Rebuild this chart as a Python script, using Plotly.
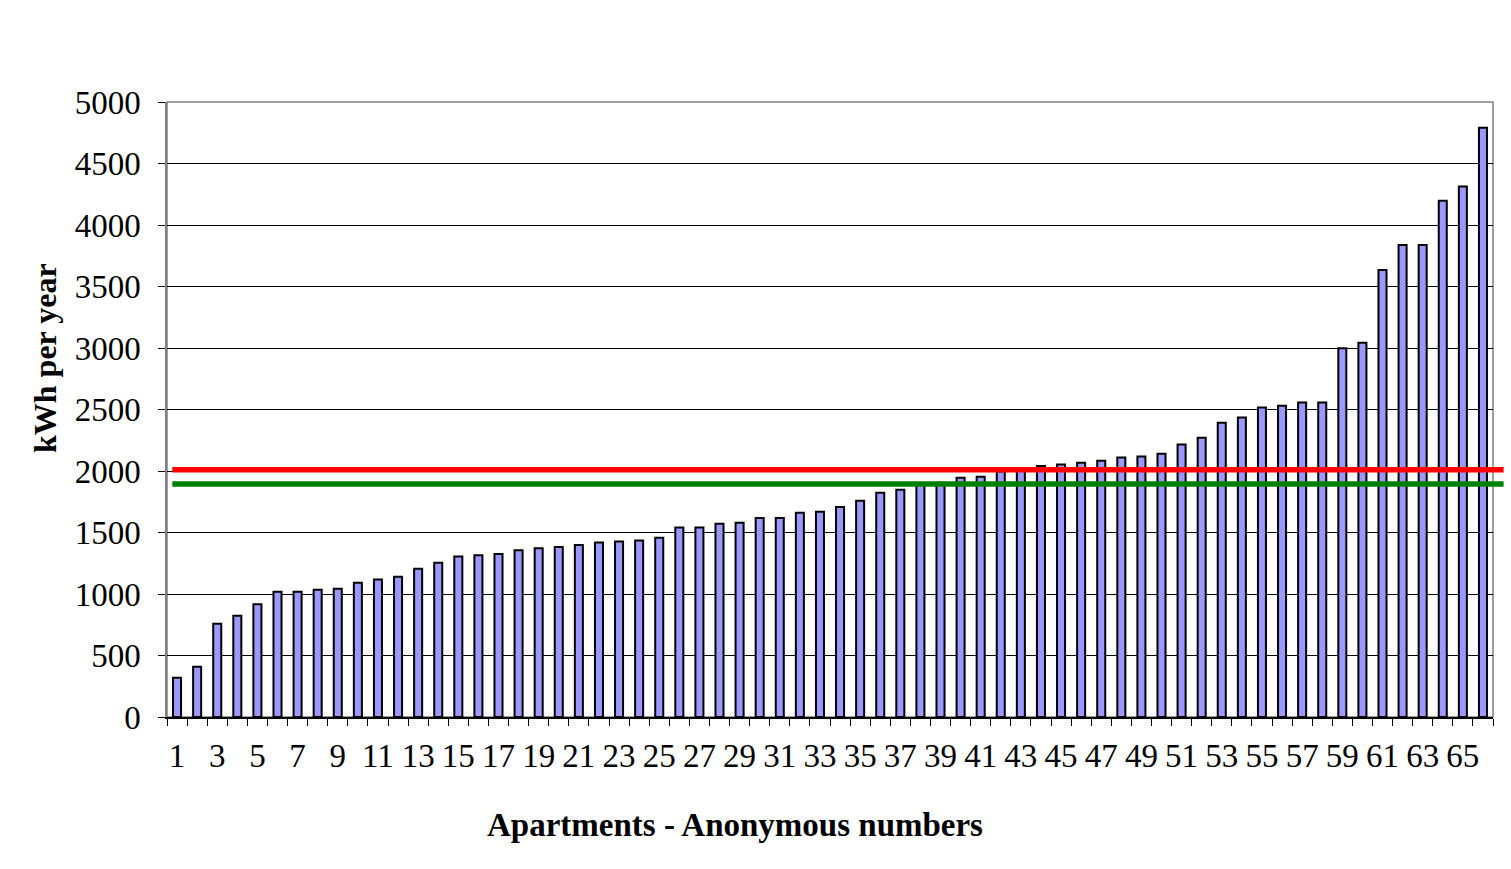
import plotly.graph_objects as go

apartments = list(range(1, 67))
kwh_per_year = [320, 409, 759, 824, 916, 1019, 1019, 1035, 1043, 1092,
                1117, 1141, 1206, 1255, 1305, 1315, 1325, 1355, 1372, 1382,
                1398, 1418, 1426, 1434, 1458, 1540, 1540, 1572, 1580, 1618,
                1618, 1661, 1669, 1707, 1759, 1824, 1848, 1900, 1905, 1946,
                1954, 1995, 2010, 2041, 2052, 2068, 2084, 2109, 2117, 2141,
                2215, 2270, 2393, 2434, 2516, 2530, 2557, 2557, 2997, 3043,
                3634, 3837, 3837, 4198, 4312, 4791]
x_tick_labels = [str(i) for i in range(1, 67, 2)]
y_ticks = list(range(0, 5001, 500))
red_level = 2010
green_level = 1895

FONT = "Liberation Serif, Times New Roman, serif"

fig = go.Figure()
fig.add_trace(go.Bar(
    x=apartments, y=kwh_per_year,
    marker=dict(color="#9999FF", line=dict(color="black", width=2)),
    width=0.4,
    showlegend=False,
))

# reference lines
for lvl, col in [(red_level, "#FF0000"), (green_level, "#008000")]:
    fig.add_shape(type="line", xref="paper", yref="y",
                  x0=0.004, x1=1.008, y0=lvl, y1=lvl,
                  line=dict(color=col, width=5.5), layer="above")

# plot area border (gray)
fig.add_shape(type="rect", xref="paper", yref="paper", x0=0, x1=1, y0=0, y1=1,
              line=dict(color="#808080", width=1.5), layer="below")

fig.update_layout(
    width=1511, height=869,
    margin=dict(l=167, r=18, t=102, b=152),
    paper_bgcolor="white", plot_bgcolor="white",
    font=dict(family=FONT, color="black"),
    bargap=0.6,
    xaxis=dict(
        range=[0.5, 66.5],
        tickmode="array",
        tickvals=[int(v) for v in x_tick_labels],
        ticktext=x_tick_labels,
        tickangle=0,
        ticks="",
        showgrid=False,
        zeroline=False,
        showline=True, linecolor="black", linewidth=1.5,
        tickfont=dict(family=FONT, size=33, color="black"),
        ticklabelstandoff=9,
        minor=dict(tickvals=[i + 0.5 for i in range(0, 67)],
                   ticks="outside", ticklen=7, tickcolor="black", tickwidth=1,
                   showgrid=False),
    ),
    yaxis=dict(
        range=[0, 5000],
        tickmode="array",
        tickvals=y_ticks,
        ticktext=[str(v) for v in y_ticks],
        ticks="outside", ticklen=7, tickcolor="black", tickwidth=1,
        showgrid=True, gridcolor="black", gridwidth=1,
        zeroline=False,
        showline=True, linecolor="#808080", linewidth=1.5,
        tickfont=dict(family=FONT, size=33, color="black"),
        ticklabelstandoff=11,
    ),
    annotations=[
        dict(text="<b>Apartments - Anonymous numbers</b>", xref="paper", yref="paper",
             x=(735 - 167) / 1326, y=-(825 - 717) / 615, xanchor="center", yanchor="middle",
             showarrow=False, font=dict(family=FONT, size=33, color="black")),
        dict(text="<b>kWh per year</b>", xref="paper", yref="paper",
             x=-(167 - 45) / 1326, y=(717 - 358) / 615, xanchor="center", yanchor="middle",
             textangle=-90, showarrow=False, font=dict(family=FONT, size=32, color="black")),
    ],
)

fig.write_html("out.html")
